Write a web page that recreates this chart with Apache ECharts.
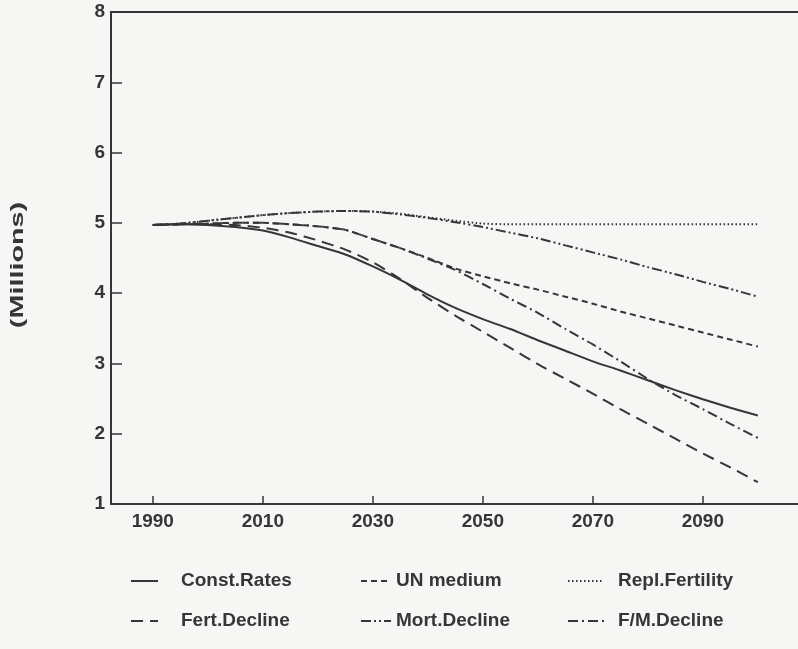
<!DOCTYPE html>
<html>
<head>
<meta charset="utf-8">
<script src="https://cdn.jsdelivr.net/npm/echarts@6/dist/echarts.min.js"></script>
<style>
  html, body { margin: 0; padding: 0; background: #f6f6f4; }
  #chart { width: 798px; height: 649px; }
</style>
</head>
<body>
<div id="chart"></div>
<script>
// ---- data ----
var years = [1990, 1995, 2000, 2005, 2010, 2015, 2020, 2025, 2030, 2035, 2040, 2045,
             2050, 2055, 2060, 2065, 2070, 2075, 2080, 2085, 2090, 2095, 2100];

var constRates   = [4.97, 4.98, 4.97, 4.94, 4.89, 4.79, 4.67, 4.55, 4.38, 4.19, 3.98, 3.79,
                    3.63, 3.49, 3.33, 3.18, 3.03, 2.90, 2.76, 2.62, 2.49, 2.37, 2.26];
var unMedium     = [4.97, 4.98, 4.99, 5.00, 5.00, 4.98, 4.95, 4.90, 4.77, 4.64, 4.50, 4.35,
                    4.24, 4.14, 4.05, 3.95, 3.85, 3.74, 3.64, 3.54, 3.44, 3.34, 3.24];
var replFert     = [4.97, 4.99, 5.03, 5.07, 5.11, 5.14, 5.16, 5.17, 5.16, 5.13, 5.08, 5.03,
                    4.99, 4.98, 4.98, 4.98, 4.98, 4.98, 4.98, 4.98, 4.98, 4.98, 4.98];
var fertDecline  = [4.97, 4.98, 4.98, 4.97, 4.93, 4.86, 4.75, 4.62, 4.44, 4.20, 3.93, 3.68,
                    3.45, 3.22, 2.99, 2.78, 2.57, 2.35, 2.14, 1.93, 1.72, 1.52, 1.31];
var mortDecline  = [4.97, 4.99, 5.03, 5.07, 5.11, 5.14, 5.16, 5.17, 5.16, 5.12, 5.07, 5.01,
                    4.94, 4.86, 4.78, 4.68, 4.58, 4.48, 4.37, 4.27, 4.16, 4.06, 3.95];
var fmDecline    = [4.97, 4.98, 4.99, 5.00, 5.00, 4.98, 4.95, 4.90, 4.77, 4.64, 4.49, 4.33,
                    4.13, 3.92, 3.72, 3.49, 3.27, 3.03, 2.78, 2.55, 2.35, 2.14, 1.94];

var xTickYears = [1990, 2010, 2030, 2050, 2070, 2090];
var yTicks = [1, 2, 3, 4, 5, 6, 7, 8];
var seriesNames = ['Const.Rates', 'UN medium', 'Repl.Fertility',
                   'Fert.Decline', 'Mort.Decline', 'F/M.Decline'];
var yAxisTitle = '(Millions)';

// ---- chart ----
var ink = '#363636';
var font = '"Liberation Sans", Arial, Helvetica, sans-serif';

function pairs(vals) {
  return years.map(function (y, i) { return [y, vals[i]]; });
}
function mkSeries(name, vals, dash) {
  return {
    name: name,
    type: 'line',
    data: pairs(vals),
    symbol: 'none',
    smooth: 0.2,
    lineStyle: { color: ink, width: 2, type: dash },
    itemStyle: { color: ink },
    emphasis: { disabled: true },
    animation: false
  };
}

var legendText = { color: ink, fontFamily: font, fontWeight: 'bold', fontSize: 19, lineHeight: 20 };
function mkLegend(left, data, w, pad) {
  return {
    orient: 'vertical',
    left: left,
    top: 571,
    padding: 0,
    itemWidth: w,
    itemHeight: 14,
    itemGap: 20,
    data: data,
    selectedMode: false,
    itemStyle: { color: 'rgba(0,0,0,0)', borderColor: 'rgba(0,0,0,0)', borderWidth: 0, opacity: 0 },
    textStyle: Object.assign({ padding: [0, 0, 0, pad] }, legendText)
  };
}

var chart = echarts.init(document.getElementById('chart'), null, { renderer: 'canvas' });
chart.setOption({
  backgroundColor: '#f6f6f4',
  animation: false,
  grid: { left: 111, right: 0, top: 12, bottom: 145, containLabel: false },
  legend: [
    mkLegend(130, [seriesNames[0], seriesNames[3]], 27, 18),
    mkLegend(360, [seriesNames[1], seriesNames[4]], 30, 0),
    mkLegend(567, [seriesNames[2], seriesNames[5]], 36, 9)
  ],
  graphic: [{
    type: 'text',
    x: 18,
    y: 265,
    rotation: Math.PI / 2,
    scaleX: 1.6,
    silent: true,
    style: {
      text: yAxisTitle,
      fill: ink,
      font: 'bold 18px ' + font,
      align: 'center',
      verticalAlign: 'middle'
    }
  }],
  xAxis: [{
    type: 'value',
    min: 1982.4,
    max: 2107.3,
    axisLine: { show: true, lineStyle: { color: ink, width: 2 } },
    axisTick: { show: true, inside: true, length: 8, customValues: xTickYears,
                lineStyle: { color: ink, width: 1.5 } },
    axisLabel: { show: true, customValues: xTickYears, margin: 8,
                 color: ink, fontFamily: font, fontWeight: 'bold', fontSize: 19,
                 formatter: function (v) { return String(Math.round(v)); } },
    splitLine: { show: false }
  }, {
    type: 'value',
    position: 'top',
    min: 1982.4,
    max: 2107.3,
    axisLine: { show: true, lineStyle: { color: ink, width: 2 } },
    axisTick: { show: false },
    axisLabel: { show: false },
    splitLine: { show: false }
  }],
  yAxis: {
    type: 'value',
    min: yTicks[0],
    max: yTicks[yTicks.length - 1],
    interval: 1,
    axisLine: { show: true, lineStyle: { color: ink, width: 2 } },
    axisTick: { show: true, inside: true, length: 11, lineStyle: { color: ink, width: 1.5 } },
    axisLabel: { margin: 6, color: ink, fontFamily: font, fontWeight: 'bold', fontSize: 19 },
    splitLine: { show: false }
  },
  series: [
    mkSeries(seriesNames[0], constRates, 'solid'),
    mkSeries(seriesNames[1], unMedium, [6, 4]),
    mkSeries(seriesNames[2], replFert, [1.5, 2.5]),
    mkSeries(seriesNames[3], fertDecline, [12, 7]),
    mkSeries(seriesNames[4], mortDecline, [10, 3, 2, 3, 2, 3]),
    mkSeries(seriesNames[5], fmDecline, [10, 4, 2, 4])
  ]
});
</script>
</body>
</html>
